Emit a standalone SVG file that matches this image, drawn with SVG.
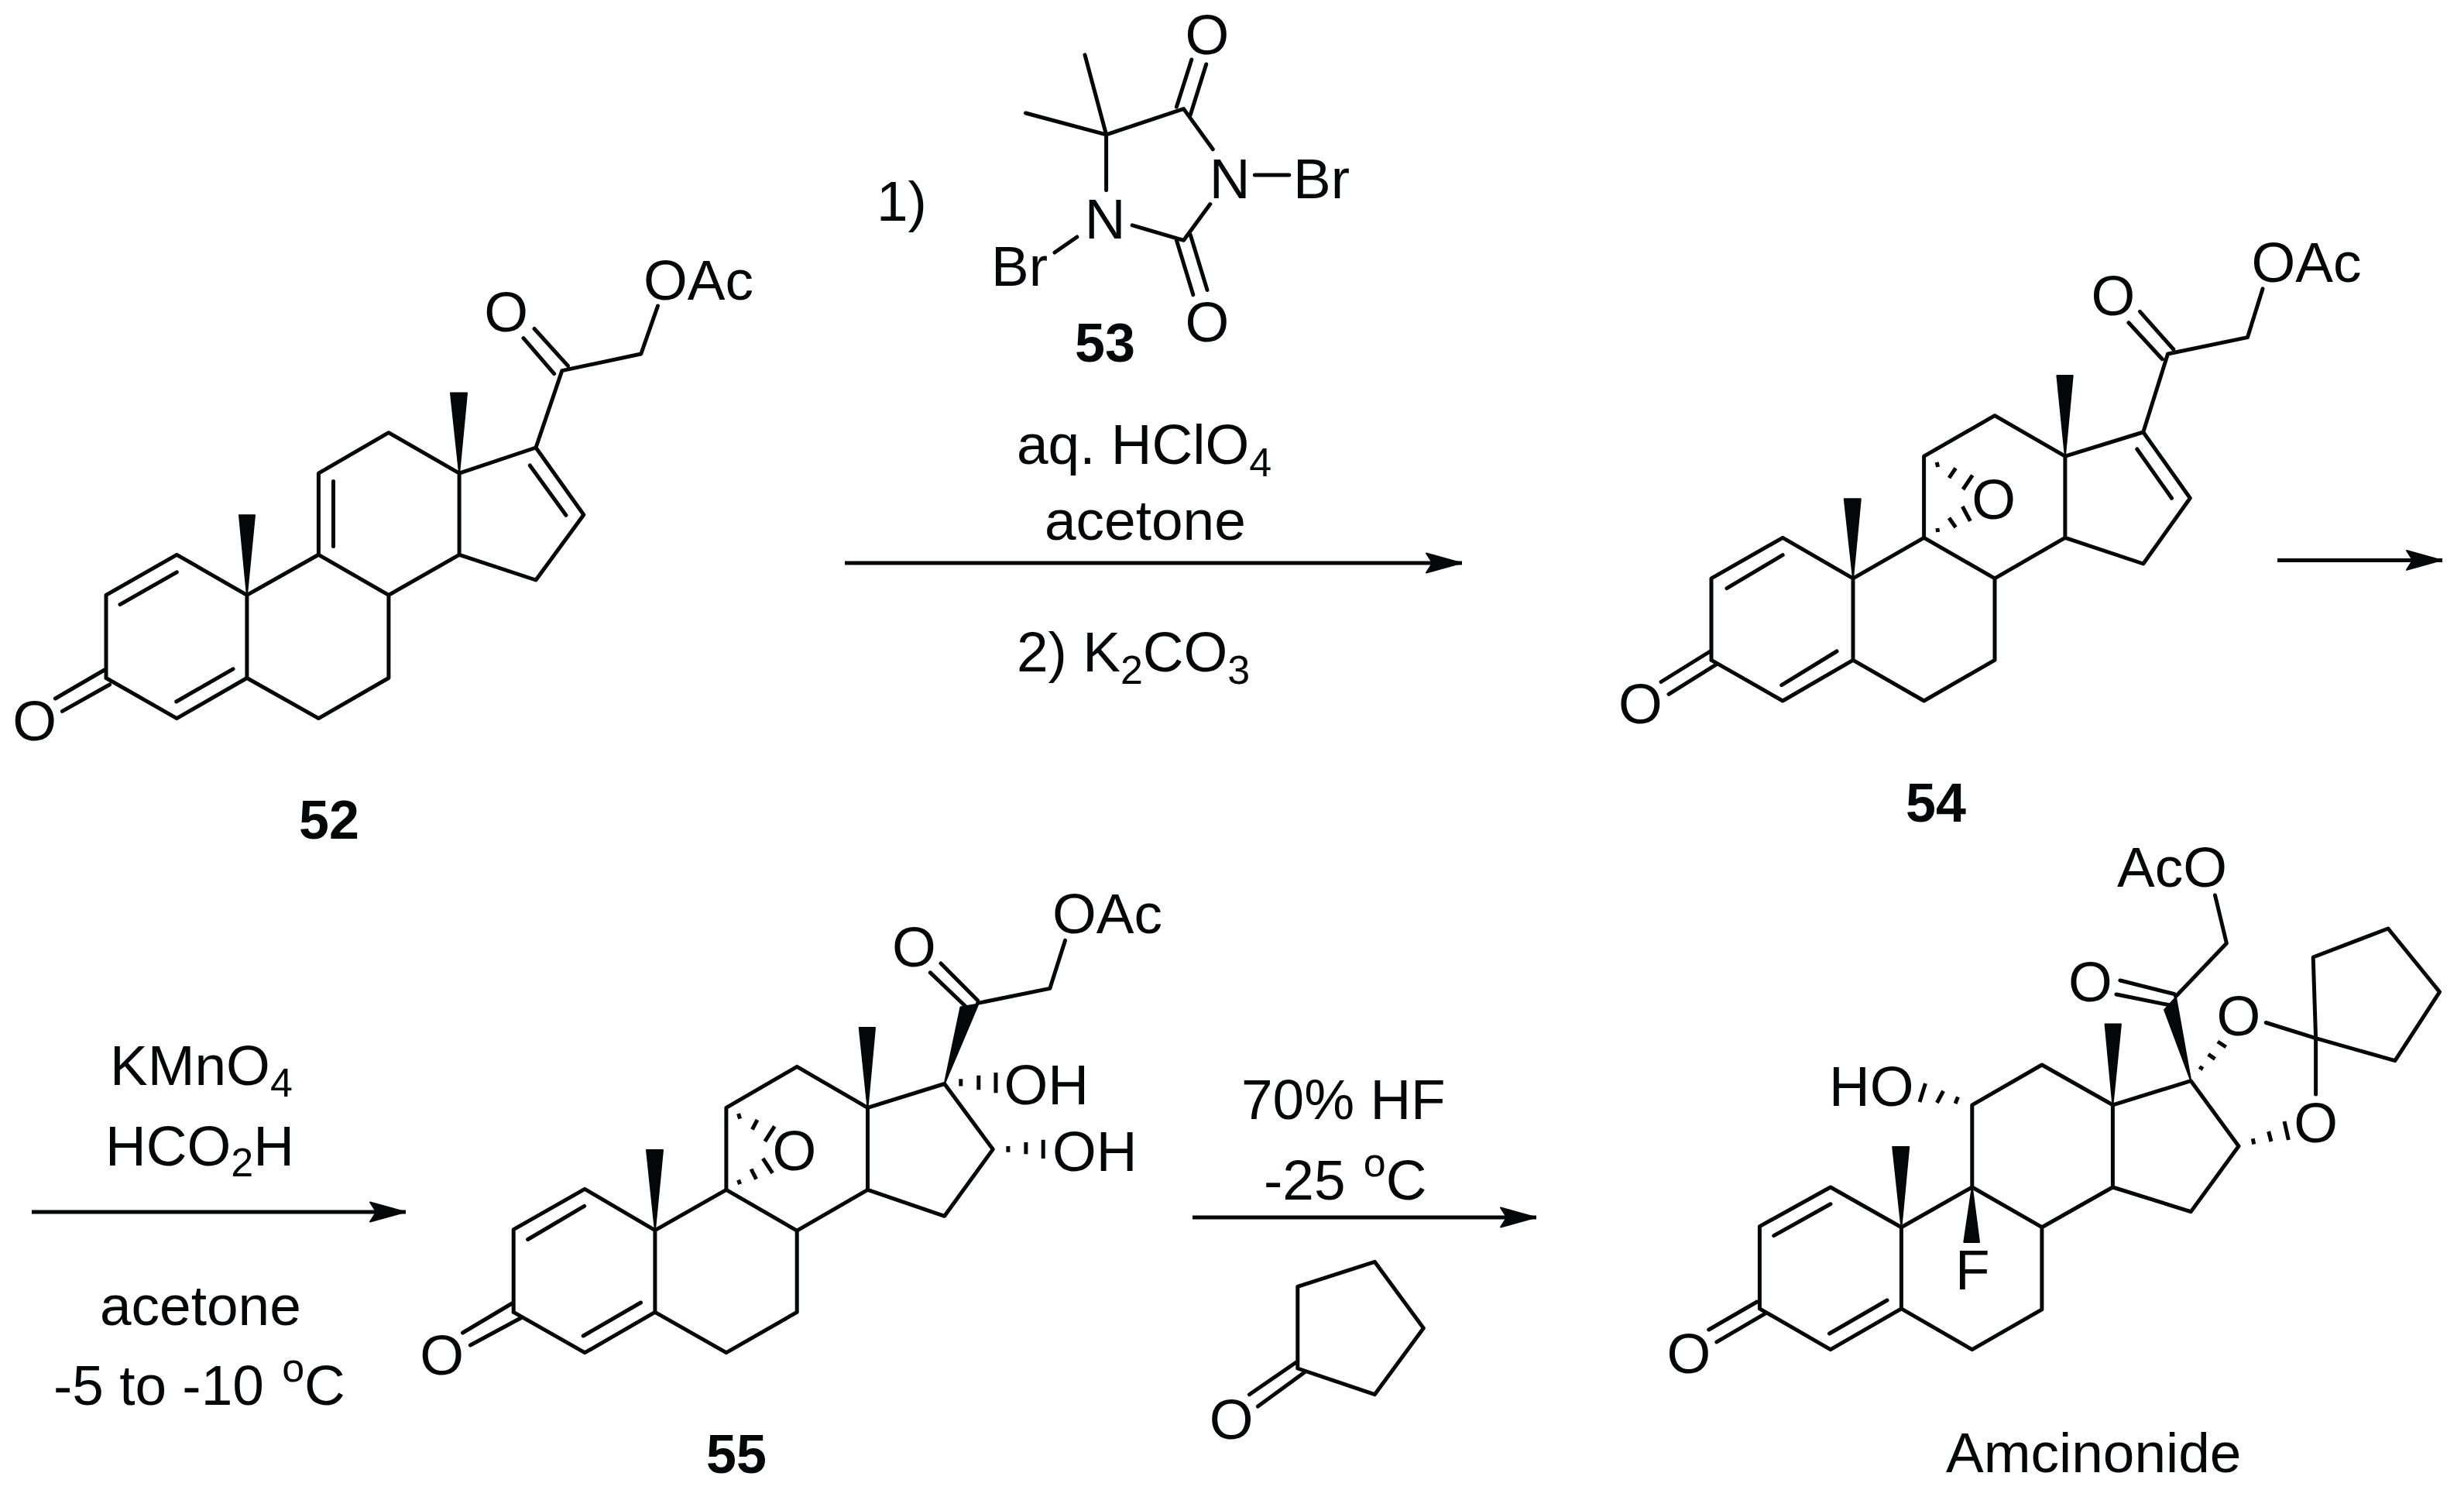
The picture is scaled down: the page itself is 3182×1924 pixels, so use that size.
<svg xmlns="http://www.w3.org/2000/svg" width="3182" height="1924" viewBox="0 0 3182 1924">
<style>
.b{fill:none;stroke:#030707;stroke-width:5;stroke-linecap:round;stroke-linejoin:round}
.d{fill:none;stroke:#030707;stroke-width:5;stroke-linecap:butt}
.w{fill:#030707;stroke:#030707;stroke-width:2;stroke-linejoin:round}
.a{fill:none;stroke:#030707;stroke-width:5}
text{font-family:"Liberation Sans",Arial,sans-serif;font-size:73px;fill:#030707}
.m{text-anchor:middle}
.l{font-weight:bold;font-size:70px;text-anchor:middle}
</style>
<defs>
<marker id="head" markerUnits="userSpaceOnUse" markerWidth="48" markerHeight="28" refX="46" refY="13" orient="auto" overflow="visible">
<path d="M45 13L0 0.5L8 13L0 25.5Z" fill="#030707" stroke="#030707" stroke-width="2" stroke-linejoin="round"/>
</marker>
</defs>
<rect width="3182" height="1924" fill="#fff"/>

<g id="connectors">
<path class="a" marker-end="url(#head)" d="M1091 727H1888"/>
<path class="a" marker-end="url(#head)" d="M2941 723.4H3154"/>
<path class="a" marker-end="url(#head)" d="M41 1565H524"/>
<path class="a" marker-end="url(#head)" d="M1540 1572H1984"/>
</g>

<g id="compound-52">
<path class="b" d="M137 875.5V768.4L228.3 716.3L318.9 768.4V875.5L228.3 927.6L137 875.5M318.9 768.4L411.4 716.3V611.2L501.9 558.7L593.1 611.2V716.3L501.9 768.4L411.4 716.3M501.9 768.4V875.5L411.4 927.6L318.9 875.5M593.1 611.2L692 578L753.8 664.8L692 749L593.1 716.3M692 578L725.8 478.6L827.8 457L849.5 395M228.3 738.8L155 780.6M301 863.8L227.7 906M430.5 621.4V705.6M684.3 601L730.9 665.3M733.4 472.4L690 424.5M715.6 482.7L676 436.7M135 865L71.4 902M141.6 884L80.4 918.4"/>
<polygon class="w" points="318.9,768.4 309,665.3 329,665.3"/>
<polygon class="w" points="593.1,611.2 582,507.6 603,507.6"/>
<text class="m" x="653.7" y="427.6">O</text>
<text x="831" y="386.7">OAc</text>
<text class="m" x="44.6" y="955.6">O</text>
<text class="l" x="425" y="1083">52</text>
</g>

<g id="compound-53">
<path class="b" d="M1401 70.9L1428.6 173.9L1324.5 146M1428.6 173.9L1528.6 140.6L1566.3 192.7M1562.8 263.6L1528.6 310.3L1462.2 290.9M1428.6 173.9V245.4M1390.8 306L1362 326M1620.4 226H1664.8M1538.8 77L1519.4 138M1557.7 83L1537.2 148.5M1519.4 310.3L1540.8 380.6M1537.2 303L1559 374.5"/>
<text class="m" x="1559" y="69.7">O</text>
<text class="m" x="1559" y="440.6">O</text>
<text class="m" x="1588" y="255.7">N</text>
<text class="m" x="1427" y="307.9">N</text>
<text x="1280" y="368.5">Br</text>
<text x="1670" y="255.7">Br</text>
<text class="l" x="1427" y="466.7">53</text>
</g>

<g id="conditions-1">
<text x="1132" y="285">1)</text>
<text x="1313" y="598.8">aq. HClO<tspan font-size="52" dy="16">4</tspan></text>
<text x="1349" y="697">acetone</text>
<text x="1313" y="866.7">2) K<tspan font-size="52" dy="16">2</tspan><tspan dy="-16">CO</tspan><tspan font-size="52" dy="16">3</tspan></text>
</g>

<g id="compound-54">
<path class="b" d="M2210 852.4V746.8L2302.2 694.3L2393 746.8V852.4L2302.2 905L2210 852.4M2393 746.8L2484.6 694.3V589.2L2576 536.6L2666.9 589.2V694.3L2576 746.8L2484.6 694.3M2576 746.8V852.4L2484.6 905L2393 852.4M2666.9 589.2L2767.8 558L2828.3 643.3L2767.8 728L2666.9 694.3M2767.8 558L2799.5 457L2902.5 435.6L2922 372.9M2302.2 716.7L2230 759.6M2372 841L2300.8 884.6M2759.8 580L2804.5 643.3M2806.7 451L2763.5 402.4M2792.3 463.7L2749 416.7M2207 842L2145 880.5M2217 857.6L2155 896.3"/>
<path class="d" d="M2501.1 596.8L2502.6 603M2517 617.2L2525.6 604.5M2535 632L2547.3 613.7M2501.9 682L2502.6 687M2517 668.8L2525.6 681M2534.3 654L2544.4 672.9"/>
<polygon class="w" points="2393,746.8 2381.8,644.3 2402.8,644.3"/>
<polygon class="w" points="2666.9,589.2 2656.4,485 2676.7,485"/>
<text class="m" x="2574.6" y="670">O</text>
<text class="m" x="2728.9" y="406.5">O</text>
<text x="2907.5" y="364">OAc</text>
<text class="m" x="2118.5" y="934">O</text>
<text class="l" x="2500" y="1060.6">54</text>
</g>

<g id="conditions-2">
<text x="142" y="1401">KMnO<tspan font-size="52" dy="15">4</tspan></text>
<text x="136" y="1504.6">HCO<tspan font-size="52" dy="14">2</tspan><tspan dy="-14">H</tspan></text>
<text x="129" y="1711.4">acetone</text>
<text x="69" y="1814.3">-5 to -10 <tspan font-size="52" dy="-30" dx="3">o</tspan><tspan dy="30">C</tspan></text>
</g>

<g id="compound-55">
<path class="b" d="M663.2 1694.4V1587.7L755.2 1535.4L845.9 1588.7V1694.4L755.2 1746.7L663.2 1694.4M845.9 1588.7L937.9 1536.4V1430.3L1029.2 1377.4L1120.5 1430.3V1536.4L1029.2 1589.2L937.9 1536.4M1029.2 1589.2V1694.4L937.9 1746.7L845.9 1694.4M1120.5 1430.3L1219.7 1399.5L1282.2 1484.1L1219.7 1570.3L1120.5 1536.4M1262.5 1295.4L1355.8 1276.4L1375.5 1214.4M754.6 1557.4L681.6 1600.5M827.5 1682L753.2 1725M1262.5 1291.8L1215 1244M1248 1300.5L1201.3 1255.9M661.3 1683L597.5 1721M672.4 1702L607.4 1737"/>
<path class="d" d="M953.6 1438L955.6 1444.6M971.4 1458.5L978 1446M987.8 1473.8L1000.3 1454.4M953.6 1523.6L955.6 1529.2M970 1509.7L976.6 1522.6M985.2 1495.9L997.7 1514.9M1240.8 1393.3V1402.6M1263.8 1388.7V1407.2M1286 1385V1411.3M1301.9 1480V1487.7M1324.9 1474.9V1490.3M1347.2 1471.8V1495.9"/>
<polygon class="w" points="845.9,1588.7 835,1485 856,1485"/>
<polygon class="w" points="1120.5,1430.3 1109.7,1327 1130,1327"/>
<polygon class="w" points="1219.7,1399.5 1240.5,1300.5 1263.4,1296.4"/>
<text class="m" x="1026" y="1511.3">O</text>
<text class="m" x="1180.3" y="1248">O</text>
<text x="1359" y="1204.6">OAc</text>
<text x="1296.5" y="1426.2">OH</text>
<text x="1359" y="1512.3">OH</text>
<text class="m" x="570.6" y="1774.9">O</text>
<text class="l" x="951" y="1902">55</text>
</g>

<g id="conditions-3">
<text x="1603" y="1444.6">70% HF</text>
<text x="1632" y="1549">-25 <tspan font-size="52" dy="-30" dx="3">o</tspan><tspan dy="30">C</tspan></text>
</g>

<g id="cyclopentanone">
<path class="b" d="M1675.8 1767V1661.4L1775.3 1629.3L1838.3 1715L1775.3 1800.7L1675.8 1767M1674 1759L1613.4 1800.7M1684 1772.5L1624.4 1816"/>
<text class="m" x="1590.2" y="1857.9">O</text>
</g>

<g id="amcinonide">
<path class="b" d="M2272.4 1689.8V1583.6L2363.9 1533L2455.4 1584.7V1689.8L2363.9 1742.7L2272.4 1689.8M2455.4 1584.7L2546.8 1533V1426.8L2636.9 1375L2728.4 1426.8V1533L2636.9 1584.7L2546.8 1533M2636.9 1584.7V1690.9L2546.8 1742.7L2455.4 1689.8M2728.4 1426.8L2829.3 1395.7L2891 1480L2829.3 1564.6L2728.4 1533M2809.7 1286.8L2875.4 1218L2860.5 1156M2807.7 1283.5L2737.9 1266M2800.9 1297.7L2733 1284M2926.2 1320.5L2990.6 1340.7V1413M2990.6 1340.7L2987.2 1236L3084 1199L3150.5 1280.8L3092.9 1369.6L2990.6 1340.7M2363.9 1554.8L2290.7 1595.6M2437 1679L2362.5 1722M2269 1681L2206.7 1717M2279.2 1696.4L2216.9 1732.9"/>
<path class="d" d="M2525.1 1425L2528.5 1416.4M2501.4 1424L2509.6 1408.8M2479 1423L2486.5 1399M2840.2 1377.7L2845 1380.5M2851.7 1361.4L2860.5 1367.4M2863.9 1345L2874.7 1352M2909.3 1470.3L2910.7 1477.4M2929.6 1461L2933 1474M2950 1448L2955.4 1472"/>
<polygon class="w" points="2829.3,1395.7 2795.1,1304 2810,1287.8"/>
<polygon class="w" points="2455.4,1584.7 2444.2,1481 2465.2,1481"/>
<polygon class="w" points="2728.4,1426.8 2718.6,1322.6 2738.9,1322.6"/>
<polygon class="w" points="2546.8,1533 2536.3,1603.9 2556,1603.9"/>
<text x="2734" y="1144.6">AcO</text>
<text class="m" x="2699.3" y="1293.3">O</text>
<text class="m" x="2891" y="1336.9">O</text>
<text class="m" x="2990.6" y="1474.7">O</text>
<text x="2362" y="1428.4">HO</text>
<text x="2525" y="1665.3">F</text>
<text class="m" x="2181" y="1772.6">O</text>
<text x="2513" y="1900.6">Amcinonide</text>
</g>
</svg>
